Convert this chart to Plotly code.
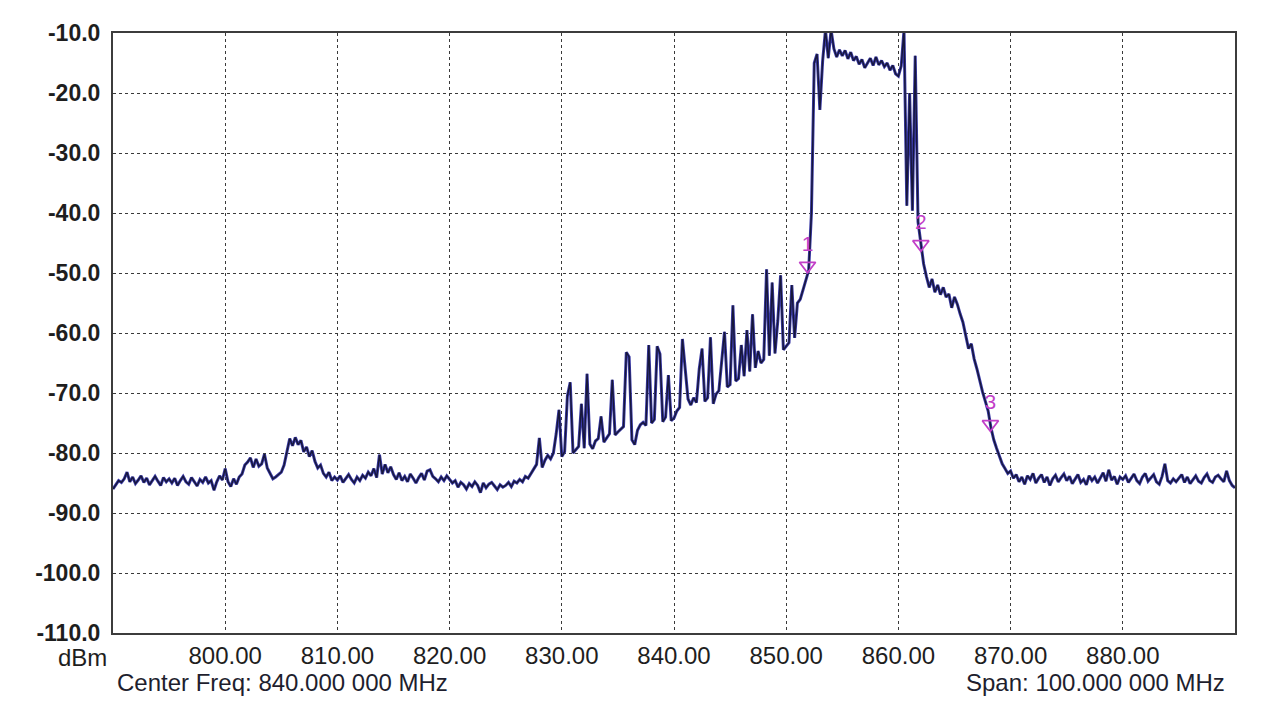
import numpy as np
import plotly.graph_objects as go


center_freq = 840.0
span = 100.0

# trace level (dBm) every 0.25 MHz from 790 to 890 MHz, one row per 5 MHz
level_rows = [
    [-86.0, -85.2, -84.6, -84.9, -84.3, -83.2, -84.8, -84.0, -85.1, -84.5,
     -83.8, -84.9, -84.2, -85.3, -84.6, -83.9, -84.7, -85.4, -84.1, -84.8],
    [-84.3, -85.0, -84.2, -85.4, -84.6, -83.9, -84.8, -85.2, -84.1, -84.7,
     -85.5, -84.4, -84.9, -84.0, -85.0, -84.6, -86.2, -84.8, -83.8, -84.5],
    [-82.6, -84.8, -85.6, -84.3, -85.2, -84.0, -83.5, -82.0, -81.5, -80.8,
     -82.4, -81.0, -82.2, -81.8, -80.2, -82.5, -83.5, -84.3, -84.0, -83.6],
    [-83.2, -82.0, -79.5, -77.6, -78.8, -77.4, -78.6, -77.9, -79.8, -79.0,
     -80.6, -79.6, -81.4, -82.5, -82.0, -83.4, -84.0, -83.2, -84.6, -84.0],
    [-84.5, -83.8, -84.9, -84.2, -83.6, -84.4, -85.0, -84.0, -84.6, -83.7,
     -84.2, -83.2, -83.8, -82.6, -84.1, -80.3, -83.5, -81.9, -83.3, -82.3],
    [-83.6, -84.4, -83.3, -84.6, -83.9, -84.8, -83.5, -84.2, -85.0, -84.1,
     -83.4, -84.5, -83.0, -82.8, -83.9, -84.3, -84.8, -84.0, -84.6, -83.8],
    [-84.4, -85.0, -84.6, -85.7, -84.9, -85.3, -86.0, -85.1, -85.6, -84.8,
     -85.4, -86.6, -85.0, -85.8, -85.2, -84.9, -85.5, -86.1, -85.3, -85.7],
    [-85.4, -84.9, -85.6, -84.7, -85.0, -84.4, -84.8, -83.9, -84.2, -83.4,
     -82.6, -81.9, -77.5, -82.4, -81.2, -80.4, -81.0, -80.0, -76.8, -72.8],
    [-80.6, -79.8, -70.5, -68.2, -80.0, -79.4, -78.9, -71.8, -79.2, -66.8,
     -78.5, -79.3, -78.0, -77.6, -73.9, -78.2, -77.4, -76.8, -67.8, -77.0],
    [-76.5, -76.0, -75.6, -63.2, -64.0, -77.8, -78.6, -76.2, -75.3, -74.9,
     -75.4, -62.0, -75.0, -74.4, -62.2, -63.5, -74.8, -74.0, -67.0, -74.6],
    [-74.2, -73.0, -72.4, -61.0, -66.5, -71.0, -72.0, -70.8, -71.6, -66.0,
     -62.6, -71.4, -70.8, -60.7, -71.8, -70.2, -69.6, -64.0, -59.8, -69.0],
    [-68.6, -55.4, -68.0, -67.6, -62.0, -67.2, -59.5, -66.4, -56.9, -65.8,
     -63.0, -65.0, -64.4, -49.4, -63.8, -51.6, -63.4, -58.0, -50.4, -62.8],
    [-62.2, -61.6, -52.0, -60.8, -55.0, -54.4, -52.8, -51.2, -49.6, -40.0,
     -15.0, -13.5, -22.8, -14.6, -9.5, -14.2, -9.5, -12.6, -14.0, -12.8],
    [-13.8, -12.9, -14.3, -13.2, -14.6, -13.9, -15.2, -14.4, -15.8, -15.0,
     -14.2, -15.4, -14.0, -15.3, -14.6, -15.6, -15.0, -16.2, -15.4, -16.8],
    [-17.2, -15.5, -9.5, -38.8, -20.0, -39.6, -13.8, -41.5, -45.0, -48.5,
     -50.6, -52.4, -51.0, -53.2, -52.0, -53.6, -52.4, -54.0, -53.5, -55.8],
    [-54.0, -55.2, -56.8, -58.2, -60.4, -62.6, -61.8, -64.3, -66.0, -68.0,
     -69.8, -71.4, -73.0, -75.8, -77.8, -79.2, -80.6, -81.8, -82.6, -83.4],
    [-83.0, -84.2, -83.6, -84.8, -84.0, -85.2, -83.8, -84.4, -83.4, -85.0,
     -84.2, -83.6, -84.9, -84.0, -85.4, -84.3, -83.7, -84.8, -84.1, -83.5],
    [-84.6, -83.9, -85.1, -84.3, -83.6, -84.9, -84.4, -85.3, -83.8, -84.6,
     -84.0, -85.0, -84.2, -83.3, -84.7, -82.8, -84.5, -83.9, -85.2, -84.0],
    [-84.4, -83.8, -84.9, -84.1, -83.5, -84.6, -85.1, -84.0, -83.4, -84.7,
     -84.2, -83.6, -84.8, -85.2, -83.9, -81.8, -84.6, -85.0, -84.3, -84.8],
    [-84.2, -83.6, -84.9, -84.0, -85.1, -84.4, -83.8, -84.7, -85.0, -84.1,
     -83.5, -84.6, -84.9, -84.0, -83.7, -84.3, -84.8, -83.0, -84.6, -85.4],
    [-85.8],
]

marker_freq = [851.9, 862.0, 868.2]
marker_level = [-48.8, -45.2, -75.2]
marker_names = ["1", "2", "3"]

x_ticks = [800, 810, 820, 830, 840, 850, 860, 870, 880]
y_ticks = [-10, -20, -30, -40, -50, -60, -70, -80, -90, -100, -110]


def spectrum_chart():

    level = [v for row in level_rows for v in row]
    freq = np.linspace(center_freq - span / 2, center_freq + span / 2, len(level))

    fig = go.Figure()

    # blue underlay gives the trace its two-tone look
    fig.add_trace(
        go.Scatter(
            x=freq,
            y=level,
            mode="lines",
            line=dict(color="#3a3aa6", width=3),
            hoverinfo="skip",
        )
    )

    fig.add_trace(
        go.Scatter(
            x=freq,
            y=level,
            mode="lines",
            line=dict(color="#17173a", width=1.4),
            name="Trace",
        )
    )

    fig.add_trace(
        go.Scatter(
            x=marker_freq,
            y=marker_level,
            mode="markers+text",
            text=marker_names,
            textposition="top center",
            textfont=dict(color="#c23fc8", size=21, family="Liberation Sans"),
            marker=dict(symbol="triangle-down-open", size=14,
                        color="#c23fc8", line=dict(width=1.8)),
            name="Markers",
        )
    )

    font = "Liberation Sans, Arial, sans-serif"

    fig.update_xaxes(
        range=[790, 890],
        tickvals=x_ticks,
        ticktext=[f"{v:.2f}" for v in x_ticks],
        tickfont=dict(size=24, color="#1e1e1e", family=font),
        ticks="",
        ticklabelstandoff=0,
        showgrid=True,
        gridcolor="#3a3a3a",
        griddash="dot",
        gridwidth=1,
        zeroline=False,
        showline=True,
        mirror=True,
        linecolor="#3c3c3c",
        linewidth=2,
    )

    fig.update_yaxes(
        range=[-110, -10],
        tickvals=y_ticks,
        ticktext=[f"{v:.1f}" for v in y_ticks],
        tickfont=dict(size=23, color="#1e1e1e", family=font, weight="bold"),
        ticks="",
        ticklabelstandoff=6,
        showgrid=True,
        gridcolor="#3a3a3a",
        griddash="dot",
        gridwidth=1,
        zeroline=False,
        showline=True,
        mirror=True,
        linecolor="#3c3c3c",
        linewidth=2,
    )

    fig.add_annotation(
        text="dBm", xref="paper", yref="paper", x=-0.004, y=-0.04,
        xanchor="right", yanchor="middle", showarrow=False,
        font=dict(size=24, color="#1e1e1e", family=font),
    )

    fig.add_annotation(
        text="Center Freq: 840.000 000 MHz", xref="paper", yref="paper",
        x=0.002, y=-0.082, xanchor="left", yanchor="middle", showarrow=False,
        font=dict(size=24, color="#1e1e2e", family=font),
    )

    fig.add_annotation(
        text="Span: 100.000 000 MHz", xref="paper", yref="paper",
        x=0.993, y=-0.082, xanchor="right", yanchor="middle", showarrow=False,
        font=dict(size=24, color="#1e1e2e", family=font),
    )

    # page body keeps an 8px margin, so the figure is 8px smaller each way
    fig.update_layout(
        width=1272,
        height=711,
        margin=dict(l=105, r=45, t=21, b=86),
        paper_bgcolor="white",
        plot_bgcolor="white",
        showlegend=False,
    )

    return fig


fig = spectrum_chart()
fig.write_html("out.html")
